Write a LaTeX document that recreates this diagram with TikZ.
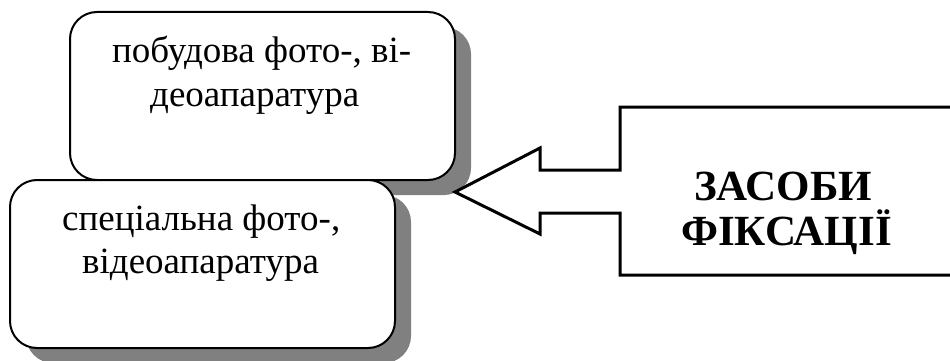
\documentclass[tikz,border=0pt]{standalone}
\usepackage{fontspec}
\setmainfont{Liberation Serif}
\usetikzlibrary{shadows}
\definecolor{shadowgray}{RGB}{128,128,128}
\tikzset{
  roundbox/.style={draw=black, line width=2pt, fill=white, rounded corners=27pt,
    drop shadow={shadow xshift=16pt, shadow yshift=-15pt, fill=shadowgray, opacity=1},
    inner sep=0pt},
  boxtext/.style={anchor=base west, inner sep=0pt, font=\fontsize{37}{42.5}\selectfont},
  bigtext/.style={anchor=base west, inner sep=0pt, font=\fontsize{43}{50}\selectfont\bfseries},
  callout/.style={draw=black, line width=3pt, fill=white, line join=miter}
}
\begin{document}
\begin{tikzpicture}[x=1pt,y=-1pt]
\useasboundingbox (0,0) rectangle (950,361);
\clip (0,0) rectangle (950,361);
% top box
\node[roundbox, minimum width=385pt, minimum height=168pt] (b1) at (262.5,96) {};
\node[boxtext] (t1a) at (112,63) {побудова фото-, ві-};
\node[boxtext] (t1b) at (150,106) {деоапаратура};
% bottom box
\node[roundbox, minimum width=385pt, minimum height=168pt] (b2) at (202.5,264) {};
\node[boxtext] (t2a) at (62,230) {спеціальна фото-,};
\node[boxtext] (t2b) at (82,273) {відеоапаратура};
% callout
\draw[callout] (980,107) -- (620,107) -- (620,170) -- (540,170) -- (540,148)
  -- (455,192) -- (540,234) -- (540,213) -- (620,213) -- (620,275) -- (980,275) -- cycle;
\node[bigtext] (c1) at (694,200) {ЗАСОБИ};
\node[bigtext] (c2) at (681,245) {ФІКСАЦІЇ};
\end{tikzpicture}
\end{document}
